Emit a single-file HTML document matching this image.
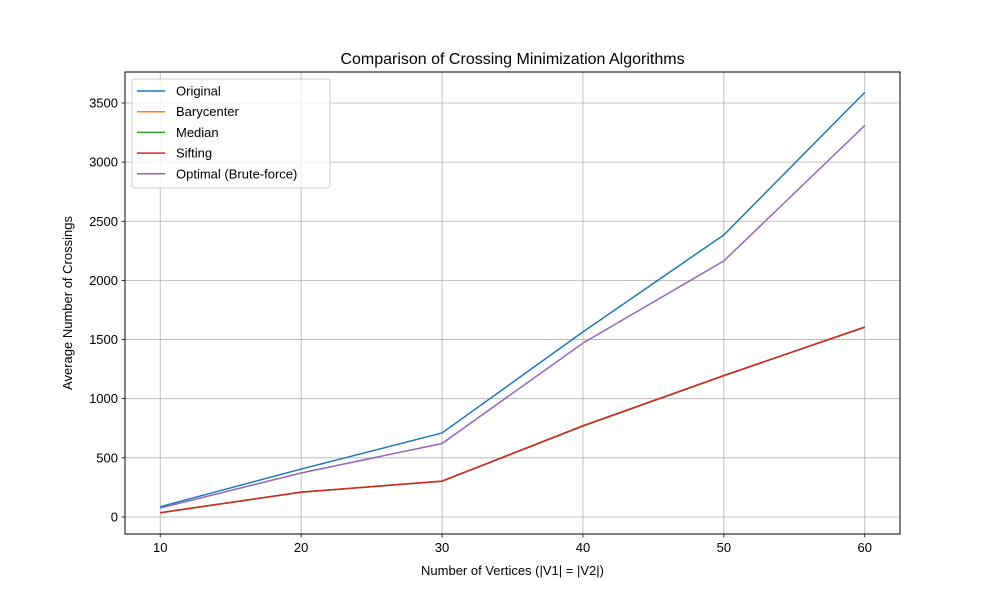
<!DOCTYPE html>
<html><head><meta charset="utf-8"><style>
body{margin:0;background:#fff}
svg text{font-family:"Liberation Sans","DejaVu Sans",sans-serif;fill:#000}
</style></head><body>
<svg id="chart" width="1000" height="600" xmlns="http://www.w3.org/2000/svg">
<rect width="1000" height="600" fill="#fff"/>
<g id="grid"></g>
<g id="lines"></g>
<rect x="125" y="72" width="775" height="462" fill="none" stroke="#000" stroke-width="1"/>
<g id="ticks"></g>
<text x="512.5" y="64" font-size="16" text-anchor="middle">Comparison of Crossing Minimization Algorithms</text>
<text x="512.5" y="575" font-size="13" text-anchor="middle">Number of Vertices (|V1| = |V2|)</text>
<text transform="translate(72,303) rotate(-90)" font-size="13" text-anchor="middle">Average Number of Crossings</text>
<g id="legend"></g>
</svg>
<script>
const categories=[10,20,30,40,50,60];
const original=[87,405,710,1565,2385,3590];
const barycenter=[36,210,303,770,1195,1605];
const median=[36,209,302,768,1194,1604];
const sifting=[36,210,303,772,1196,1606];
const optimal=[76,372,621,1470,2165,3310];
const yTicks=[0,500,1000,1500,2000,2500,3000,3500];
const seriesNames=["Original","Barycenter","Median","Sifting","Optimal (Brute-force)"];
const colors=["#1f77b4","#ff7f0e","#2ca02c","#d62728","#9467bd"];
const series=[original,barycenter,median,sifting,optimal];
const L=125,R=900,T=72,B=534;
const xmin=7.5,xmax=62.5,ymin=-144,ymax=3762;
const xs=v=>L+(v-xmin)/(xmax-xmin)*(R-L);
const ys=v=>B-(v-ymin)/(ymax-ymin)*(B-T);
const NS="http://www.w3.org/2000/svg";
function mk(tag,attrs,parent){const e=document.createElementNS(NS,tag);for(const k in attrs)e.setAttribute(k,attrs[k]);parent.appendChild(e);return e;}
const grid=document.getElementById('grid'),ticks=document.getElementById('ticks'),lines=document.getElementById('lines'),legend=document.getElementById('legend');
categories.forEach(c=>{const x=xs(c);
const g=mk('line',{x1:x,x2:x,y1:T,y2:B,stroke:'#b0b0b0','stroke-width':0.8},grid);


const t=mk('line',{x1:x,x2:x,y1:B,y2:B+3.5,stroke:'#000','stroke-width':0.8},ticks);


const l=mk('text',{x:x,y:B+18,'font-size':13,'text-anchor':'middle'},ticks);l.textContent=c;

});
yTicks.forEach(v=>{const y=ys(v);
const g=mk('line',{x1:L,x2:R,y1:y,y2:y,stroke:'#b0b0b0','stroke-width':0.8},grid);


const t=mk('line',{x1:L-3.5,x2:L,y1:y,y2:y,stroke:'#000','stroke-width':0.8},ticks);


const l=mk('text',{x:L-7,y:y+4.5,'font-size':13,'text-anchor':'end'},ticks);l.textContent=v;

});
series.forEach((s,i)=>{const p=mk('polyline',{points:s.map((v,j)=>xs(categories[j])+','+ys(v)).join(' '),fill:'none',stroke:colors[i],'stroke-width':1.5},lines);

});
const box=mk('rect',{x:132,y:79,width:198,height:109,fill:'#fff','fill-opacity':0.8,stroke:'#ccc',rx:3},legend);


seriesNames.forEach((n,i)=>{const y=91+i*20.7;
const ln=mk('line',{x1:137,x2:165,y1:y,y2:y,stroke:colors[i],'stroke-width':1.5},legend);


const t=mk('text',{x:176,y:y+4.5,'font-size':13},legend);t.textContent=n;

});
</script>
</body></html>
